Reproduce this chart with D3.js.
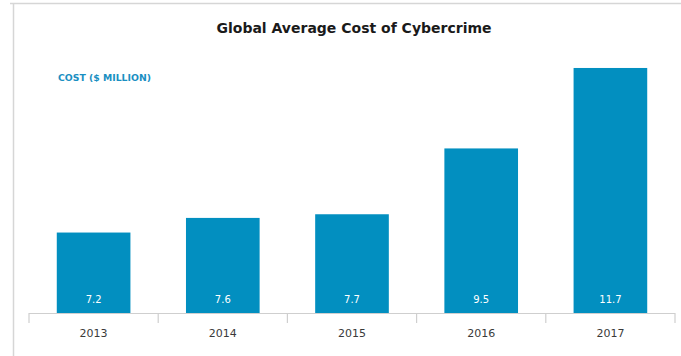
<!DOCTYPE html>
<html><head><meta charset="utf-8">
<script src="https://cdn.jsdelivr.net/npm/d3@7"></script>
<style>html,body{margin:0;padding:0;background:#fff;}svg{display:block;}</style>
</head><body>
<script>
const years = ["2013","2014","2015","2016","2017"];
const costs = [7.2, 7.6, 7.7, 9.5, 11.7];
const yDomain = [5, 12];
const title = "Global Average Cost of Cybercrime";
const unitLabel = "COST ($ MILLION)";

const W = 681, H = 356;
const svg = d3.select("body").append("svg").attr("width", W).attr("height", H);
const font = "'DejaVu Sans', Verdana, sans-serif";

// frame
svg.append("line").attr("x1", 10).attr("x2", W).attr("y1", 3.5).attr("y2", 3.5)
  .attr("stroke", "#d6d6d6").attr("stroke-width", 1.5);
svg.append("line").attr("x1", 13.5).attr("x2", 13.5).attr("y1", 3).attr("y2", H)
  .attr("stroke", "#d6d6d6").attr("stroke-width", 1.5);

const x = d3.scaleBand().domain(years).range([29, 675]).paddingInner(0.43).paddingOuter(0.215);
const y = d3.scaleLinear().domain(yDomain).range([313, 57]);

svg.append("text").attr("x", 354).attr("y", 33).attr("text-anchor", "middle")
  .attr("font-family", font).attr("font-weight", "bold").attr("font-size", 14)
  .attr("fill", "#1a1a1a").text(title);

svg.append("text").attr("x", 58).attr("y", 80.5)
  .attr("font-family", font).attr("font-weight", "bold").attr("font-size", 9.3)
  .attr("fill", "#1a8fc2").text(unitLabel);

svg.selectAll("rect.bar").data(costs).join("rect").attr("class", "bar")
  .attr("x", (d, i) => x(years[i])).attr("width", x.bandwidth())
  .attr("y", d => y(d)).attr("height", d => y(yDomain[0]) - y(d))
  .attr("fill", "#028fc0");

svg.selectAll("text.val").data(costs).join("text").attr("class", "val")
  .attr("x", (d, i) => x(years[i]) + x.bandwidth() / 2).attr("y", 303)
  .attr("text-anchor", "middle").attr("font-family", font).attr("font-size", 10)
  .attr("fill", "#ffffff").text(d => d.toFixed(1));

// axis
const step = x.step();
const bounds = d3.range(years.length + 1).map(i => 29 + i * step);
svg.append("line").attr("x1", 29).attr("x2", 675).attr("y1", 313.5).attr("y2", 313.5)
  .attr("stroke", "#cfcfcf").attr("stroke-width", 1.2);
svg.selectAll("line.tk").data(bounds).join("line").attr("class", "tk")
  .attr("x1", d => d).attr("x2", d => d).attr("y1", 313).attr("y2", 323)
  .attr("stroke", "#cfcfcf").attr("stroke-width", 1.2);
svg.selectAll("text.yr").data(years).join("text").attr("class", "yr")
  .attr("x", d => x(d) + x.bandwidth() / 2).attr("y", 337)
  .attr("text-anchor", "middle").attr("font-family", font).attr("font-size", 11)
  .attr("fill", "#3a3a3a").text(d => d);
</script>
</body></html>
